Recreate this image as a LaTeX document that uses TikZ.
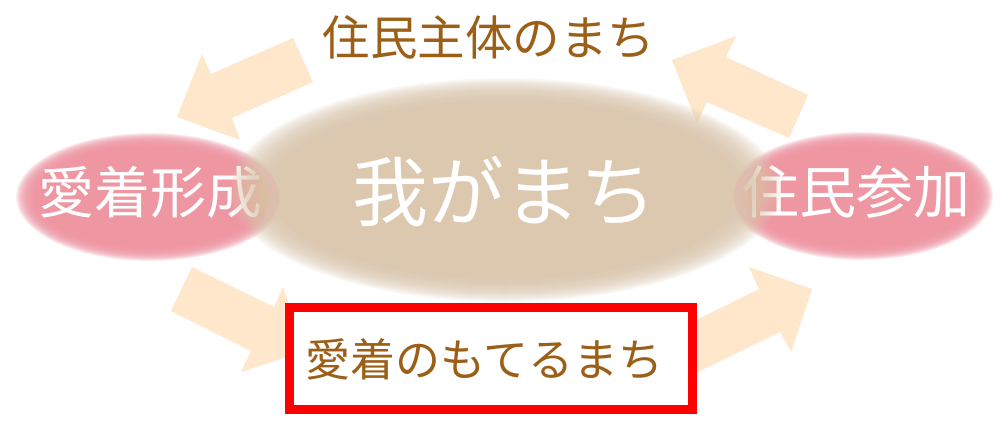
\documentclass[tikz,border=0pt]{standalone}
\usepackage{fontspec}
\setmainfont{Noto Sans CJK JP}
\definecolor{peach}{RGB}{254,231,202}
\definecolor{tanc}{RGB}{220,200,174}
\definecolor{pinkc}{RGB}{239,150,163}
\definecolor{brownc}{RGB}{156,95,23}
\tikzset{
  blockarrow/.style={fill=peach, draw=none},
  labeltext/.style={inner sep=0pt, text=white},
  browntext/.style={inner sep=0pt, text=brownc},
}
\begin{document}
\begin{tikzpicture}[x=1pt,y=-1pt]
\useasboundingbox (0,0) rectangle (1008,429);
\fill[white] (0,0) rectangle (1008,429);
% block arrows
\fill[blockarrow] (293,38) -- (211,74) -- (202,54) -- (177,117) -- (240,140) -- (232,118) -- (313,82) -- cycle;
\fill[blockarrow] (672,60) -- (736,36) -- (726,57) -- (808,95) -- (789,138) -- (707,102) -- (697,123) -- cycle;
\fill[blockarrow] (192,267) -- (274,307) -- (283,287) -- (305,351) -- (241,372) -- (251,351) -- (171,311) -- cycle;
\fill[blockarrow] (678,329) -- (759,289) -- (749,267) -- (812,289) -- (791,352) -- (780,332) -- (698,372) -- cycle;
% pink soft ellipses
\foreach \k in {0,...,23} {
  \fill[pinkc, fill opacity=0.15] (150,197) ellipse [x radius={(134-1.0*\k)*1pt}, y radius={(64-0.7*\k)*1pt}];
  \fill[pinkc, fill opacity=0.15] (861,196) ellipse [x radius={(132-1.0*\k)*1pt}, y radius={(64-0.7*\k)*1pt}];
}
\node[labeltext, font=\fontsize{56}{60}\selectfont] (aichaku) at (150,192) {愛着形成};
\node[labeltext, font=\fontsize{57}{60}\selectfont] (sanka) at (856,192) {住民参加};
% central tan soft ellipse
\foreach \k in {0,...,39} {
  \fill[tanc, fill opacity=0.09] (505,190) ellipse [x radius={(276-1.75*\k)*1pt}, y radius={(112-1.0*\k)*1pt}];
}
\node[labeltext, font=\fontsize{76}{80}\selectfont] (waga) at (504,191) {我がまち};
\node[browntext, font=\fontsize{47.5}{50}\selectfont] (shutai) at (489,37) {住民主体のまち};
% red box
\node[draw=red, line width=9pt, fill=white, inner sep=0pt, minimum width=403pt, minimum height=102pt] (box) at (491,358.5) {};
\node[browntext, font=\fontsize{45}{48}\selectfont] (moteru) at (484.5,359.5) {愛着のもてるまち};
\end{tikzpicture}
\end{document}
